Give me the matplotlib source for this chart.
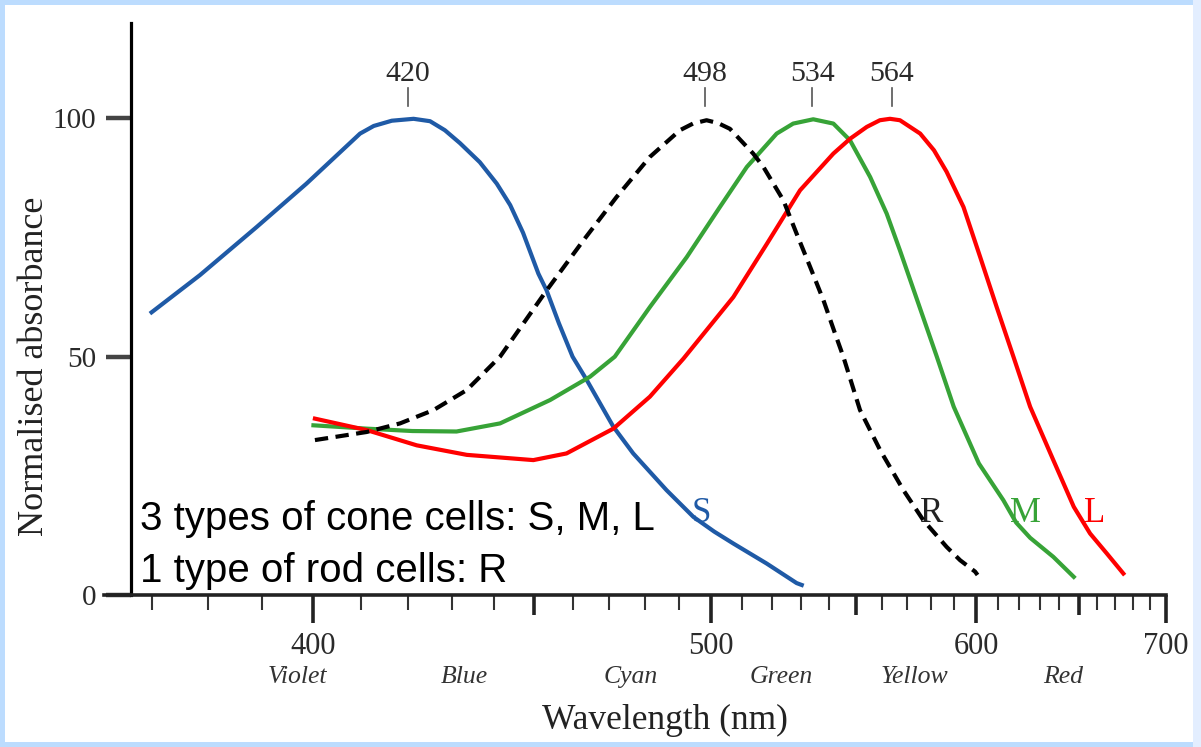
import numpy as np
import matplotlib
matplotlib.use("Agg")
import matplotlib.pyplot as plt
from matplotlib.patches import Rectangle

# ---------------- data ----------------
s_wl = [370.0, 378.5, 389.0, 398.7, 409.7, 412.6, 416.5, 421.3, 425.0, 428.4,
        431.9, 436.6, 440.7, 444.0, 447.2, 451.1, 453.2, 456.4, 460.0, 463.8,
        471.1, 476.7, 486.4, 494.5, 501.0, 507.1, 518.1, 528.4, 530.2]
s_val = [59.3, 67.1, 77.2, 86.3, 96.8, 98.4, 99.5, 99.9, 99.4, 97.5,
         94.8, 90.8, 86.3, 81.8, 76.0, 67.4, 63.9, 57.0, 50.0, 45.1,
         35.3, 29.7, 22.0, 16.4, 13.3, 10.8, 6.6, 2.5, 2.1]

r_wl = [400.4, 411.1, 418.3, 425.8, 433.5, 441.5, 453.2, 462.9, 472.0, 481.5,
        490.4, 494.4, 498.6, 502.2, 506.0, 513.6, 517.0, 523.8, 528.4, 533.2,
        538.0, 542.2, 545.3, 551.6, 559.4, 568.7, 576.9, 586.8, 592.7, 599.4,
        600.5]
r_val = [32.5, 34.2, 36.0, 38.8, 43.0, 50.0, 63.9, 74.4, 83.5, 91.9,
         97.5, 98.9, 99.6, 99.0, 97.8, 92.6, 89.8, 82.8, 75.8, 68.8,
         61.8, 54.9, 50.0, 38.8, 30.4, 22.0, 15.7, 10.1, 7.3, 4.9,
         4.2]

m_wl = [400.1, 411.1, 421.0, 431.1, 441.5, 454.1, 464.7, 471.5, 481.5, 492.5,
        502.8, 511.5, 521.5, 527.2, 534.3, 541.6, 547.8, 555.5, 562.0, 567.3,
        582.6, 589.9, 601.1, 612.4, 618.5, 625.3, 636.9, 647.5]
m_val = [35.6, 34.9, 34.4, 34.3, 36.0, 40.9, 45.8, 50.0, 60.4, 70.9,
         81.4, 89.8, 96.8, 98.9, 99.8, 98.9, 95.4, 87.7, 80.0, 72.3,
         50.0, 39.5, 27.6, 19.9, 15.2, 12.0, 8.0, 3.8]

l_wl = [400.4, 411.1, 422.0, 433.5, 449.8, 458.4, 471.1, 481.5, 491.5, 507.1,
        518.2, 529.6, 541.6, 547.8, 554.2, 559.3, 563.3, 567.3, 575.6, 581.4,
        586.8, 594.2, 601.7, 609.3, 617.2, 625.3, 636.9, 647.5, 656.2, 665.4,
        674.7]
l_val = [37.0, 34.6, 31.4, 29.4, 28.3, 29.7, 34.9, 41.6, 49.6, 62.5,
         73.7, 84.9, 92.6, 95.7, 98.2, 99.6, 99.9, 99.6, 96.8, 93.3,
         88.8, 81.4, 70.9, 60.4, 50.0, 39.5, 28.3, 18.5, 12.9, 8.7,
         4.5]

peaks = [420, 498, 534, 564]
major_ticks = [400, 500, 600, 700]
medium_ticks = [450, 550, 650]
minor_ticks = [w for w in range(370, 700, 10) if w not in major_ticks + medium_ticks]
y_ticks = [0, 50, 100]
color_names = ["Violet", "Blue", "Cyan", "Green", "Yellow", "Red"]
color_name_wl = [397, 433, 476, 523, 573, 642]
series_labels = ["S", "R", "M", "L"]
series_label_wl = [496.9, 580.4, 622.8, 658.8]

# ---------------- figure ----------------
W, H = 1201, 747
fig = plt.figure(figsize=(W / 100, H / 100), dpi=100)
fig.patch.set_facecolor("#bcdcfe")
fig.patches.append(Rectangle((5 / W, 5 / H), (1193 - 5) / W, (742 - 5) / H,
                             transform=fig.transFigure, facecolor="white",
                             edgecolor="none", zorder=-10))
fig.patches.append(Rectangle((1193 / W, 0), 8 / W, 1, transform=fig.transFigure,
                             facecolor="#e3eeff", edgecolor="none", zorder=-10))

ax = fig.add_axes([104 / W, (H - 595) / H, (1166 - 104) / W, (595 - 23) / H])
ax.set_facecolor("none")


def fwd(x):
    x = np.asarray(x, dtype=float)
    with np.errstate(divide="ignore", invalid="ignore"):
        return -1.0 / x


def inv(y):
    y = np.asarray(y, dtype=float)
    with np.errstate(divide="ignore", invalid="ignore"):
        return -1.0 / y


ax.set_xscale("function", functions=(fwd, inv))
ax.set_xlim(362, 700)
ax.set_ylim(0, 120)

SERIF = "Liberation Serif"
SANS = "Liberation Sans"
blue, green, red = "#1f5aa6", "#37a337", "#ff0000"

lw = 3.0
ax.plot(s_wl, s_val, color=blue, lw=lw, zorder=3, solid_joinstyle="round")
ax.plot(m_wl, m_val, color=green, lw=lw, zorder=3, solid_joinstyle="round")
ax.plot(l_wl, l_val, color=red, lw=lw, zorder=3, solid_joinstyle="round")
ax.plot(r_wl, r_val, color="black", lw=lw, dashes=(3.2, 1.8), zorder=4)

# spines
for sp in ["top", "right"]:
    ax.spines[sp].set_visible(False)
ax.spines["left"].set_position(("data", 366.5))
ax.spines["left"].set_linewidth(2.3)
ax.spines["bottom"].set_linewidth(2.6)
ax.spines["bottom"].set_color("#222222")

# y ticks
ax.set_yticks(y_ticks)
ax.set_yticklabels([str(v) for v in y_ticks], fontfamily=SERIF, fontsize=21,
                   color="#2a2a2a")
ax.tick_params(axis="y", direction="out", length=18, width=3.2,
               color="#444444", pad=7)

# x ticks
xt = major_ticks + medium_ticks
ax.set_xticks(xt)
ax.set_xticklabels([str(v) if v in major_ticks else "" for v in xt],
                   fontfamily=SERIF, fontsize=22, color="#2a2a2a")
ax.set_xticks(minor_ticks, minor=True)
ax.tick_params(axis="x", which="major", direction="out", length=20, width=2.6,
               color="#222222", pad=7)
ax.tick_params(axis="x", which="minor", direction="out", length=11, width=1.5,
               color="#333333")
for t, loc in zip(ax.xaxis.get_major_ticks(), xt):
    if loc in medium_ticks:
        t.tick1line.set_markersize(14.5)

# peak markers
for p in peaks:
    ax.plot([p, p], [102.5, 106.3], color="#555555", lw=1.2, clip_on=False)
    ax.text(p, 107.8, str(p), ha="center", va="baseline", fontfamily=SERIF,
            fontsize=21.5, color="#2a2a2a")

# series labels
for lab, wl, col in zip(series_labels, series_label_wl,
                        [blue, "#222222", green, red]):
    ax.text(wl, 15.3, lab, ha="center", va="baseline", fontfamily=SERIF,
            fontsize=25, color=col)

# colour names below axis
xtr = ax.get_xaxis_transform()
for name, wl in zip(color_names, color_name_wl):
    ax.text(wl, -0.1434, name, transform=xtr, ha="center", va="center",
            fontfamily=SERIF, fontstyle="italic", fontsize=18.5, color="#333333")

# axis titles
ax.text((665 - 104) / 1062, (595 - 720) / 572, "Wavelength (nm)",
        transform=ax.transAxes, ha="center", va="center", fontfamily=SERIF,
        fontsize=25.5, color="#222222")
fig.text(35 / W, 1 - 366 / H, "Normalised absorbance", rotation=90,
         ha="center", va="center", fontfamily=SERIF, fontsize=26, color="#222222")

# annotation text
ax.text((140 - 104) / 1062, (595 - 530) / 572, "3 types of cone cells: S, M, L",
        transform=ax.transAxes, ha="left", va="baseline", fontfamily=SANS,
        fontsize=29, color="black")
ax.text((140 - 104) / 1062, (595 - 582) / 572, "1 type of rod cells: R",
        transform=ax.transAxes, ha="left", va="baseline", fontfamily=SANS,
        fontsize=29, color="black")

fig.savefig("out.png", dpi=100, facecolor=fig.get_facecolor())
